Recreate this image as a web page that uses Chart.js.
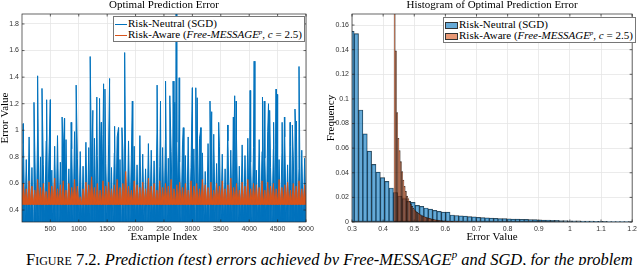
<!DOCTYPE html>
<html>
<head>
<meta charset="utf-8">
<script src="https://cdn.jsdelivr.net/npm/chart.js@4"></script>
<style>
  body { margin: 0; width: 640px; height: 265px; overflow: hidden; background: #fff; position: relative; font-family: "Liberation Serif", serif; }
  canvas { position: absolute; top: 0; }
  .legend { position: absolute; background: #fff; border: 1px solid #777; font-size: 11px; line-height: 11px; color: #000; padding: 1px 2px 1px 1px; white-space: nowrap; }
  .legend .ln { display: inline-block; width: 12px; height: 1px; vertical-align: middle; margin-right: 1px; }
  .legend .pt { display: inline-block; width: 11px; height: 5px; vertical-align: middle; margin-right: 1px; border: 1px solid #333; }
  .legend sup { font-size: 7px; line-height: 0; vertical-align: 4px; }
  .caption { position: absolute; left: 26px; top: 252px; font-size: 16.5px; line-height: 16.5px; white-space: nowrap; }
  .caption .sc { font-variant: small-caps; }
  .caption sup { font-size: 11px; vertical-align: 7px; line-height: 0; }
</style>
</head>
<body>
<canvas id="lineChart" width="320" height="245" style="left:0"></canvas>
<canvas id="histChart" width="320" height="245" style="left:320px"></canvas>

<div class="legend" style="left:113px; top:16px;">
  <div><span class="ln" style="background:#0072BD"></span>Risk-Neutral (SGD)</div>
  <div><span class="ln" style="background:#D95319"></span>Risk-Aware (<i>Free-MESSAGE<sup>p</sup></i>, <i>c</i> = 2.5)</div>
</div>
<div class="legend" style="left:443px; top:17px;">
  <div><span class="pt" style="background:rgba(0,114,189,0.6)"></span>Risk-Neutral (SGD)</div>
  <div><span class="pt" style="background:rgba(217,83,25,0.6)"></span>Risk-Aware (<i>Free-MESSAGE<sup>p</sup></i>, <i>c</i> = 2.5)</div>
</div>

<div class="caption"><span class="sc">Figure 7.2.</span> <i>Prediction (test) errors achieved by Free-MESSAGE<sup>p</sup> and SGD, for the problem</i></div>

<script>
// ---- left plot: error per example (read per 50-example bucket) ----
var bucket = 50;
var blueLow = 0.30;   // floor of the SGD errors
var redLow = 0.44;    // floor of the Free-MESSAGE errors
var blueTop = [
  0.90, 0.78, 0.95, 0.72, 0.85, 0.98, 0.80, 0.74, 0.92, 0.83,
  0.70, 0.88, 0.96, 0.76, 0.82, 0.93, 0.71, 0.86, 0.99, 0.79,
  0.84, 0.73, 0.91, 0.87, 0.69, 0.94, 0.81, 0.77, 0.97, 0.75,
  0.89, 0.72, 0.83, 0.95, 0.78, 0.86, 0.70, 0.92, 0.80, 0.88,
  0.74, 0.96, 0.82, 0.71, 0.90, 0.85, 0.77, 0.98, 0.73, 0.87,
  0.93, 0.79, 0.84, 0.70, 0.91, 0.76, 0.89, 0.81, 0.95, 0.72,
  0.86, 0.78, 0.94, 0.83, 0.69, 0.90, 0.80, 0.97, 0.75, 0.88,
  0.82, 0.71, 0.92, 0.85, 0.77, 0.96, 0.73, 0.89, 0.81, 0.94,
  0.76, 0.87, 0.70, 0.93, 0.84, 0.79, 0.99, 0.72, 0.86, 0.90,
  0.78, 0.83, 0.95, 0.74, 0.88, 0.80, 0.92, 0.71, 0.85, 0.79
];
var redTop = [
  0.60, 0.56, 0.62, 0.58, 0.55, 0.63, 0.57, 0.60, 0.54, 0.61,
  0.58, 0.64, 0.56, 0.59, 0.62, 0.55, 0.60, 0.57, 0.63, 0.58,
  0.50, 0.56, 0.61, 0.59, 0.65, 0.57, 0.60, 0.55, 0.62, 0.58,
  0.61, 0.56, 0.59, 0.63, 0.57, 0.60, 0.69, 0.58, 0.55, 0.62,
  0.59, 0.57, 0.61, 0.56, 0.64, 0.58, 0.60, 0.55, 0.62, 0.57,
  0.60, 0.58, 0.63, 0.56, 0.59, 0.61, 0.57, 0.60, 0.55, 0.62,
  0.58, 0.60, 0.56, 0.63, 0.59, 0.57, 0.61, 0.55, 0.60, 0.58,
  0.62, 0.56, 0.59, 0.64, 0.57, 0.60, 0.55, 0.61, 0.58, 0.63,
  0.56, 0.60, 0.59, 0.57, 0.62, 0.55, 0.61, 0.58, 0.60, 0.56,
  0.63, 0.57, 0.59, 0.61, 0.55, 0.60, 0.58, 0.62, 0.56, 0.59
];
// isolated tall SGD spikes (example index, error)
var spikeIdx = [23, 212, 276, 353, 435, 500, 707, 748, 866, 954, 1201, 1248, 1318, 1366, 1396, 1437, 1461, 1543, 1631, 1700,
  1760, 1808, 1943, 2379, 2439, 2528, 2603, 2661, 2690, 2714, 2767, 2840, 3000, 3060, 3085, 3150, 3310, 3340, 3463, 3622,
  3721, 3745, 3770, 4016, 4087, 4234, 4265, 4340, 4360, 4430, 4475, 4495, 4580, 4620, 4720, 4760, 4806, 4830, 4877];
var spikeVal = [1.05, 1.21, 1.41, 1.315, 1.23, 1.23, 1.10, 1.09, 1.06, 1.34, 1.555, 1.15, 1.25, 1.24, 1.06, 1.35, 1.31, 1.39, 1.03, 1.02,
  1.02, 1.585, 1.22, 1.34, 1.22, 1.37, 1.26, 1.37, 1.21, 1.88, 1.395, 1.02, 1.32, 1.32, 1.245, 1.02, 1.22, 1.14, 1.06, 1.04,
  1.10, 1.26, 1.22, 1.30, 1.52, 1.25, 1.22, 1.20, 1.15, 1.06, 1.31, 1.27, 1.06, 1.10, 1.06, 1.04, 1.16, 1.07, 1.48];
var lineXTicks = [500, 1000, 1500, 2000, 2500, 3000, 3500, 4000, 4500, 5000];
var lineYTicks = [0.4, 0.6, 0.8, 1, 1.2, 1.4, 1.6, 1.8];

// ---- right plot: normalised histograms ----
var blueBinStart = 0.293, blueBinWidth = 0.014;
var blueFreq = [
  0.155, 0.153, 0.091, 0.0716, 0.0576, 0.0468, 0.0405, 0.036, 0.033, 0.0276,
  0.024, 0.021, 0.019,
  0.0168, 0.016, 0.0135, 0.0127, 0.0114, 0.0105, 0.0095, 0.0086, 0.008, 0.008,
  0.0057, 0.0053, 0.005, 0.0048, 0.0044, 0.0042, 0.0038, 0.0035, 0.0033, 0.0031,
  0.0030, 0.0028, 0.0027, 0.0026, 0.0024, 0.0023, 0.0022, 0.0021, 0.002, 0.0019,
  0.0017, 0.0016, 0.0015, 0.0014, 0.0013, 0.0012, 0.0011, 0.001, 0.001, 0.0009,
  0.0008, 0.0008, 0.0007, 0.0006, 0.0006, 0.0005, 0.0004, 0.0003, 0.0003, 0.0002,
  0.0002, 0.0001
];
var redBinStart = 0.435, redBinWidth = 0.004;
var redFreq = [
  0.28, 0.139, 0.089, 0.068, 0.058, 0.049, 0.041, 0.034, 0.029, 0.025,
  0.021, 0.019, 0.0165, 0.0145, 0.0128, 0.0112, 0.0099, 0.0088, 0.0079, 0.0071,
  0.0064, 0.0058, 0.0052, 0.0047, 0.0043, 0.0039, 0.0036, 0.0032, 0.0029, 0.0027,
  0.0024, 0.0022, 0.002, 0.0018, 0.0016, 0.0015, 0.0013, 0.0012, 0.0011, 0.001,
  0.0009, 0.0008, 0.0007, 0.0007, 0.0006, 0.0005, 0.0005, 0.0004, 0.0004, 0.0003,
  0.0003, 0.0002, 0.0002, 0.0002, 0.0001
];
var histXTicks = [0.3, 0.4, 0.5, 0.6, 0.7, 0.8, 0.9, 1, 1.1, 1.2];
var histYTicks = [0, 0.02, 0.04, 0.06, 0.08, 0.1, 0.12, 0.14, 0.16];

// low/top pairs for each bucket, spikes merged in by index
function bucketSeries(tops, low, extraIdx, extraVal) {
  var pts = [];
  tops.forEach(function(t, k) {
    pts.push({x: 1 + k * bucket, y: low});
    pts.push({x: 1 + k * bucket + bucket / 2, y: t});
  });
  pts.push({x: 5000, y: low});
  (extraIdx || []).forEach(function(ix, i) { pts.push({x: ix, y: extraVal[i]}); });
  pts.sort(function(a, b) { return a.x - b.x; });
  return pts;
}

function binSeries(start, width, freq) {
  return freq.map(function(f, i) { return {x: start + (i + 0.5) * width, y: f}; });
}

// MATLAB-like box with inward tick marks
var boxPlugin = {
  id: 'box',
  afterDraw: function(chart) {
    var ctx = chart.ctx, a = chart.chartArea, sx = chart.scales.x, sy = chart.scales.y;
    ctx.save();
    ctx.strokeStyle = '#262626';
    ctx.lineWidth = 0.7;
    ctx.strokeRect(a.left, a.top, a.right - a.left, a.bottom - a.top);
    ctx.beginPath();
    sx.ticks.forEach(function(t) {
      var p = sx.getPixelForValue(t.value);
      ctx.moveTo(p, a.bottom); ctx.lineTo(p, a.bottom - 2.5);
      ctx.moveTo(p, a.top); ctx.lineTo(p, a.top + 2.5);
    });
    sy.ticks.forEach(function(t) {
      var p = sy.getPixelForValue(t.value);
      ctx.moveTo(a.left, p); ctx.lineTo(a.left + 2.5, p);
      ctx.moveTo(a.right, p); ctx.lineTo(a.right - 2.5, p);
    });
    ctx.stroke();
    ctx.restore();
  }
};

var serif = "'Liberation Serif', serif";
var tickFont = {family: "'Liberation Sans', sans-serif", size: 7};
var gridStyle = {color: '#e6e6e6', lineWidth: 0.8, drawTicks: false};

function axes(xmin, xmax, xt, ymin, ymax, yt, xTitle, yTitle, yWidth, yTitlePad) {
  return {
    x: {
      type: 'linear', min: xmin, max: xmax, offset: false,
      grid: Object.assign({offset: false}, gridStyle), border: {display: false},
      afterBuildTicks: function(s) { s.ticks = xt.map(function(v) { return {value: v}; }); },
      afterFit: function(s) { s.height = 23; },
      ticks: {font: tickFont, color: '#333', padding: 3, maxRotation: 0, autoSkip: false, callback: function(v) { return String(v); }},
      title: {display: true, text: xTitle, font: {family: serif, size: 11, lineHeight: 1}, color: '#000', padding: {top: 0, bottom: 2}}
    },
    y: {
      min: ymin, max: ymax, stacked: false,
      grid: gridStyle, border: {display: false},
      afterBuildTicks: function(s) { s.ticks = yt.map(function(v) { return {value: v}; }); },
      afterFit: function(s) { s.width = yWidth; },
      ticks: {font: tickFont, color: '#333', padding: 3, autoSkip: false, callback: function(v) { return String(v); }},
      title: {display: true, text: yTitle, font: {family: serif, size: 11, lineHeight: 1}, color: '#000', padding: {top: yTitlePad, bottom: 0}}
    }
  };
}

function titleOpts(text) {
  return {display: true, text: text, fullSize: false, color: '#000', font: {family: serif, size: 11, weight: 'normal', lineHeight: 1}, padding: {top: 0, bottom: 3}};
}

new Chart(document.getElementById('lineChart'), {
  type: 'line',
  data: {
    datasets: [
      {label: 'Risk-Neutral (SGD)', data: bucketSeries(blueTop, blueLow, spikeIdx, spikeVal),
       borderColor: '#0072BD', backgroundColor: '#0072BD', borderWidth: 1, pointRadius: 0, fill: 'origin', order: 1},
      {label: 'Risk-Aware (Free-MESSAGE^p, c = 2.5)', data: bucketSeries(redTop, redLow),
       borderColor: '#D95319', backgroundColor: '#D95319', borderWidth: 1, pointRadius: 0, fill: {value: redLow}, order: 0}
    ]
  },
  options: {
    responsive: false, animation: false,
    layout: {padding: {left: 0, right: 14, top: 0, bottom: 0}},
    plugins: {legend: {display: false}, tooltip: {enabled: false}, title: titleOpts('Optimal Prediction Error')},
    scales: axes(1, 5000, lineXTicks, 0.31, 1.875, lineYTicks, 'Example Index', 'Error Value', 22, 0)
  },
  plugins: [boxPlugin]
});

new Chart(document.getElementById('histChart'), {
  type: 'bar',
  data: {
    datasets: [
      {label: 'Risk-Neutral (SGD)', data: binSeries(blueBinStart, blueBinWidth, blueFreq),
       backgroundColor: 'rgba(0,114,189,0.6)', borderColor: 'rgba(0,0,0,0.75)', borderWidth: 0.5, borderSkipped: false,
       barThickness: 'flex', categoryPercentage: 1, barPercentage: 1, stack: 'h', order: 1},
      {label: 'Risk-Aware (Free-MESSAGE^p, c = 2.5)', data: binSeries(redBinStart, redBinWidth, redFreq),
       backgroundColor: 'rgba(217,83,25,0.6)', borderColor: 'rgba(0,0,0,0.75)', borderWidth: 0.5, borderSkipped: false,
       barThickness: 'flex', categoryPercentage: 1, barPercentage: 1, stack: 'h', order: 0}
    ]
  },
  options: {
    responsive: false, animation: false,
    layout: {padding: {left: 0, right: 4, top: 0, bottom: 0}},
    plugins: {legend: {display: false}, tooltip: {enabled: false}, title: titleOpts('Histogram of Optimal Prediction Error')},
    scales: axes(0.3, 1.2, histXTicks, 0, 0.169, histYTicks, 'Error Value', 'Frequency', 32, 5.5)
  },
  plugins: [boxPlugin]
});
</script>
</body>
</html>
